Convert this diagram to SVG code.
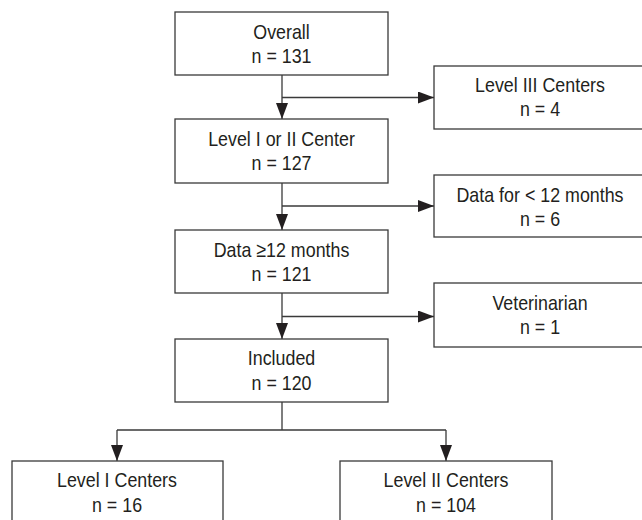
<svg xmlns="http://www.w3.org/2000/svg" width="642" height="520" viewBox="0 0 642 520">
<style>
.box{fill:#fff;stroke:#3a3a3a;stroke-width:1.3}
.t{font-family:"Liberation Sans",Arial,sans-serif;font-size:21px;fill:#231f20;text-anchor:middle}
.c{fill:none;stroke:#3a3a3a;stroke-width:1.3}
</style>
<defs>
<marker id="ah" markerWidth="16" markerHeight="12" refX="16" refY="6" orient="auto" markerUnits="userSpaceOnUse">
<path d="M0,0 L16,6 L0,12 Z" fill="#231f20"/>
</marker>
</defs>
<rect width="642" height="520" fill="#fff"/>
<g id="connectors">
<path class="c" d="M282,75 V119" marker-end="url(#ah)"/>
<path class="c" d="M282,97.5 H434" marker-end="url(#ah)"/>
<path class="c" d="M282,183 V230" marker-end="url(#ah)"/>
<path class="c" d="M282,206 H434" marker-end="url(#ah)"/>
<path class="c" d="M282,293 V339" marker-end="url(#ah)"/>
<path class="c" d="M282,316.5 H434" marker-end="url(#ah)"/>
<path class="c" d="M282,402 V430 M117,430 H446"/>
<path class="c" d="M117,430 V461" marker-end="url(#ah)"/>
<path class="c" d="M446,430 V461" marker-end="url(#ah)"/>
</g>
<g id="overall">
<rect class="box" x="175" y="12" width="213" height="63"/>
<text class="t" transform="translate(281.5,39) scale(0.85,1)">Overall</text>
<text class="t" transform="translate(281.5,63) scale(0.85,1)">n = 131</text>
</g>
<g id="level3">
<rect class="box" x="434" y="66" width="220" height="63"/>
<text class="t" transform="translate(540,92) scale(0.85,1)">Level III Centers</text>
<text class="t" transform="translate(540,116) scale(0.85,1)">n = 4</text>
</g>
<g id="level12">
<rect class="box" x="175" y="119" width="213" height="64"/>
<text class="t" transform="translate(281.5,146) scale(0.85,1)">Level I or II Center</text>
<text class="t" transform="translate(281.5,170) scale(0.85,1)">n = 127</text>
</g>
<g id="lt12">
<rect class="box" x="434" y="175" width="220" height="62"/>
<text class="t" transform="translate(540,201.5) scale(0.85,1)">Data for &lt; 12 months</text>
<text class="t" transform="translate(540,225.5) scale(0.85,1)">n = 6</text>
</g>
<g id="ge12">
<rect class="box" x="175" y="230" width="213" height="63"/>
<text class="t" transform="translate(281.5,257) scale(0.85,1)">Data ≥12 months</text>
<text class="t" transform="translate(281.5,281) scale(0.85,1)">n = 121</text>
</g>
<g id="vet">
<rect class="box" x="434" y="283" width="220" height="64"/>
<text class="t" transform="translate(540,310) scale(0.85,1)">Veterinarian</text>
<text class="t" transform="translate(540,334) scale(0.85,1)">n = 1</text>
</g>
<g id="included">
<rect class="box" x="175" y="339" width="213" height="63"/>
<text class="t" transform="translate(281.5,365) scale(0.85,1)">Included</text>
<text class="t" transform="translate(281.5,390) scale(0.85,1)">n = 120</text>
</g>
<g id="levelI">
<rect class="box" x="12" y="461" width="211" height="70"/>
<text class="t" transform="translate(117,487) scale(0.85,1)">Level I Centers</text>
<text class="t" transform="translate(117,512) scale(0.85,1)">n = 16</text>
</g>
<g id="levelII">
<rect class="box" x="340" y="461" width="212" height="70"/>
<text class="t" transform="translate(446,487) scale(0.85,1)">Level II Centers</text>
<text class="t" transform="translate(446,512) scale(0.85,1)">n = 104</text>
</g>
</svg>
